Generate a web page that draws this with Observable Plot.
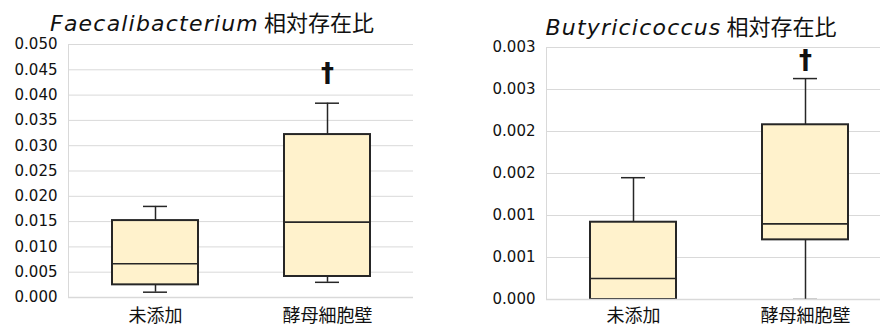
<!DOCTYPE html>
<html>
<head>
<meta charset="utf-8">
<script src="https://cdn.jsdelivr.net/npm/d3@7"></script>
<script src="https://cdn.jsdelivr.net/npm/@observablehq/plot@0.6"></script>
<style>
  html, body { margin: 0; padding: 0; background: #fff; overflow: hidden; }
  #wrap { position: relative; width: 880px; height: 329px; overflow: hidden; background: #fff; }
  .panel { position: absolute; top: 0; }
  .panel svg { max-width: none !important; }
  .title { position: absolute; width: 600px; text-align: center; font-size: 22px; color: #111; white-space: nowrap; line-height: 1; }
  .title i { font-family: "DejaVu Sans"; font-style: italic; letter-spacing: 1.2px; }
  .title span { font-family: "Noto Sans CJK JP"; }
</style>
</head>
<body>
<div id="wrap">
  <div class="panel" id="left" style="left:0px; width:440px"></div>
  <div class="panel" id="right" style="left:440px; width:451px"></div>
  <div class="title" style="left:-88px; top:10px"><i>Faecalibacterium</i><span> 相対存在比</span></div>
  <div class="title" style="left:391px; top:14px"><i>Butyricicoccus</i><span> 相対存在比</span></div>
</div>
<script>
const categories = ["未添加", "酵母細胞壁"];

// Faecalibacterium
const faecLow    = [0.00105, 0.0030];
const faecQ1     = [0.0025,  0.00415];
const faecMedian = [0.00666, 0.0149];
const faecQ3     = [0.0152,  0.0322];
const faecHigh   = [0.0180,  0.0384];
const faecMark   = [null, 0.0443];
const faecTicks  = [0, 0.005, 0.010, 0.015, 0.020, 0.025, 0.030, 0.035, 0.040, 0.045, 0.050];
const faecTickLabels = ["0.000","0.005","0.010","0.015","0.020","0.025","0.030","0.035","0.040","0.045","0.050"];

// Butyricicoccus
const butyLow    = [0, 0];
const butyQ1     = [0, 0.00071];
const butyMedian = [0.00025, 0.0009];
const butyQ3     = [0.00092, 0.00208];
const butyHigh   = [0.00145, 0.00263];
const butyMark   = [null, 0.00284];
const butyTicks  = [0, 0.0005, 0.0010, 0.0015, 0.0020, 0.0025, 0.0030];
const butyTickLabels = ["0.000","0.001","0.001","0.002","0.002","0.003","0.003"];

function table(lo, q1, med, q3, hi, mark) {
  return categories.map((c, i) => ({cat: c, lo: lo[i], q1: q1[i], med: med[i], q3: q3[i], hi: hi[i], mark: mark[i]}));
}

function panel({data, ticks, labels, ymax, width, marginLeft, marginRight, marginTop, marginBottom, xPad}) {
  const dark = "#262626";
  const grid = "#d9d9d9";
  return Plot.plot({
    width, height: 329, marginLeft, marginRight, marginTop, marginBottom,
    style: {background: "white", overflow: "visible", maxWidth: "none"},
    x: {type: "band", domain: categories, paddingInner: 0.5, paddingOuter: 0.25, axis: null},
    y: {domain: [0, ymax], axis: null},
    marks: [
      Plot.ruleY(ticks.filter(t => t !== 0), {stroke: grid, strokeWidth: 1}),
      Plot.frame({anchor: "left", stroke: grid}),
      Plot.ruleX(data, {x: "cat", y1: "q3", y2: "hi", stroke: dark, strokeWidth: 1.5}),
      Plot.ruleX(data, {x: "cat", y1: "lo", y2: "q1", stroke: dark, strokeWidth: 1.5}),
      Plot.tickY(data, {x: "cat", y: "hi", stroke: dark, strokeWidth: 1.5, insetLeft: 31, insetRight: 31}),
      Plot.tickY(data, {x: "cat", y: "lo", stroke: dark, strokeWidth: 1.5, insetLeft: 31, insetRight: 31, clip: true}),
      Plot.barY(data, {x: "cat", y1: "q1", y2: "q3", fill: "#FFF2CC", stroke: dark, strokeWidth: 2, clip: true}),
      Plot.tickY(data, {x: "cat", y: "med", stroke: dark, strokeWidth: 1.6}),
      Plot.ruleY([0], {stroke: grid, strokeWidth: 1.5}),
      Plot.text(data.filter(d => d.mark != null), {x: "cat", y: "mark", text: () => "†", fontSize: 26, fontWeight: "bold", fontFamily: "DejaVu Sans", fill: "#111", lineAnchor: "middle"}),
      Plot.axisY({ticks, tickFormat: d => labels[ticks.indexOf(d)], tickSize: 0, tickPadding: 11, fontSize: 15, fontFamily: "DejaVu Sans", fill: "#111", label: null}),
      Plot.axisX({tickSize: 0, tickPadding: xPad, fontSize: 18, fontFamily: "Noto Sans CJK JP", fill: "#111", label: null})
    ]
  });
}

document.getElementById("left").appendChild(panel({
  data: table(faecLow, faecQ1, faecMedian, faecQ3, faecHigh, faecMark),
  ticks: faecTicks, labels: faecTickLabels, ymax: 0.05,
  width: 440, marginLeft: 68, marginRight: 27, marginTop: 44, marginBottom: 32, xPad: 12
}));
document.getElementById("right").appendChild(panel({
  data: table(butyLow, butyQ1, butyMedian, butyQ3, butyHigh, butyMark),
  ticks: butyTicks, labels: butyTickLabels, ymax: 0.003,
  width: 451, marginLeft: 106, marginRight: 0, marginTop: 47, marginBottom: 30, xPad: 10
}));
</script>
</body>
</html>
